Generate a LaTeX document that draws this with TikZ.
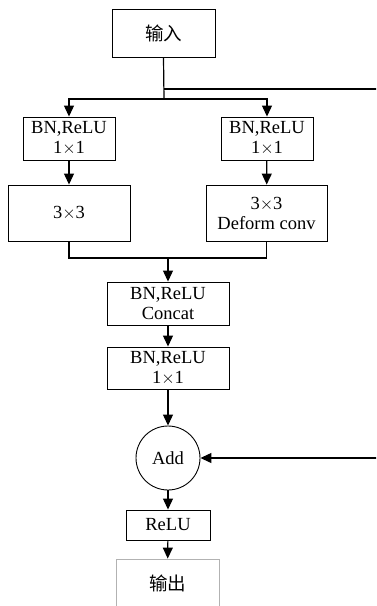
\documentclass[tikz,border=0pt]{standalone}
\usepackage{fontspec}
\setmainfont{Liberation Serif}
\newfontfamily\cjk{Noto Sans CJK SC}
\usetikzlibrary{arrows.meta}
\tikzset{
  blk/.style={draw, line width=0.9pt, inner sep=0pt, align=center},
  flow/.style={line width=1.2pt, -{Triangle[width=10pt,length=11pt]}},
  wire/.style={line width=1.2pt}
}
\begin{document}
\begin{tikzpicture}[x=1pt,y=-1pt,font=\fontsize{18.5}{20}\selectfont]
\useasboundingbox (0,0) rectangle (376,606);
\clip (0,0) rectangle (376,606);
% blocks
\node[blk, minimum width=103pt, minimum height=48pt] (in) at (163.5,33) {\cjk 输入};
\node[blk, minimum width=92pt, minimum height=43pt] (bnL) at (69,138.5) {BN,ReLU\\1$\times$1};
\node[blk, minimum width=92pt, minimum height=43pt] (bnR) at (267,138.5) {BN,ReLU\\1$\times$1};
\node[blk, minimum width=122pt, minimum height=56pt] (convL) at (69,213) {3$\times$3};
\node[blk, minimum width=121pt, minimum height=56pt] (convR) at (266.5,213) {3$\times$3\\Deform conv};
\node[blk, minimum width=122pt, minimum height=43pt] (cat) at (168,303.5) {BN,ReLU\\Concat};
\node[blk, minimum width=122pt, minimum height=42pt] (bn) at (168,368) {BN,ReLU\\1$\times$1};
\node[blk, circle, minimum size=64pt] (add) at (168,458) {Add};
\node[blk, minimum width=84pt, minimum height=30pt] (relu) at (168,525) {ReLU};
\node[blk, draw=gray!60, minimum width=103pt, minimum height=48pt] (out) at (167.5,583) {\cjk 输出};
% junctions
\coordinate (tap) at (164,89);
\coordinate (split) at (164,99);
\coordinate (merge) at (168,258);
\coordinate (skipT) at (390,89);
\coordinate (skipB) at (390,458);
% connectors
\draw[wire] (in.south) -- (split);
\draw[flow] (split) -| (bnL.north);
\draw[flow] (split) -| (bnR.north);
\draw[flow] (bnL) -- (convL);
\draw[flow] (bnR) -- (convR);
\draw[wire] (convL.south) |- (merge) -| (convR.south);
\draw[flow] (merge) -- (cat);
\draw[flow] (cat) -- (bn);
\draw[flow] (bn) -- (add);
\draw[flow] (add) -- (relu);
\draw[flow] (relu) -- (out);
\draw[flow] (tap) -- (skipT) -- (skipB) -- (add.east);
\end{tikzpicture}
\end{document}
